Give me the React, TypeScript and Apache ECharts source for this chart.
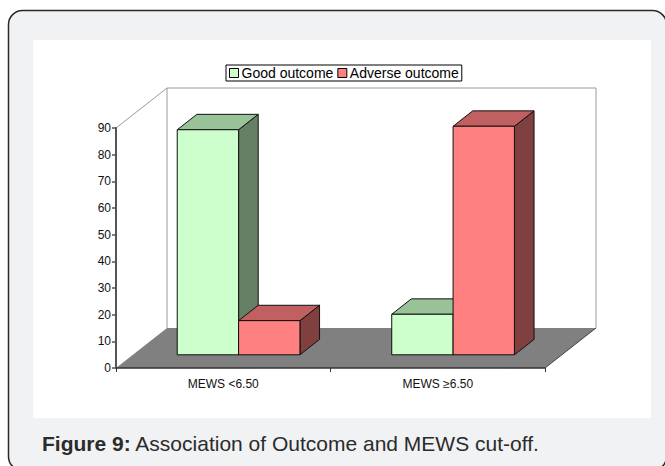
import React, { useEffect, useRef } from "react";
import * as echarts from "echarts";

// Data
const categories = ["MEWS <6.50", "MEWS ≥6.50"];
const goodOutcome = [84.4, 15.2];
const adverseOutcome = [12.8, 85.7];
const seriesNames = ["Good outcome", "Adverse outcome"];
const yMin = 0;
const yMax = 90;
const yInterval = 10;
const captionBold = "Figure 9:";
const captionText = " Association of Outcome and MEWS cut-off.";

// Face shades for the pseudo-3D columns
const goodFaces = { front: "#CCFFCC", top: "#99C299", side: "#668066" };
const adverseFaces = { front: "#FF8080", top: "#C06060", side: "#804040" };

// Oblique depth of the plot box, in pixels
const DEPTH_X = 51;
const DEPTH_Y = -40;
// Where the columns sit inside that depth, and their size within a band
const BAR_FRONT = 0.33;
const BAR_DEPTH = 0.385;
const BAR_WIDTH = 0.286;
const BAR_SHIFT = -0.007;

const FONT = "'Liberation Sans', Arial, Helvetica, sans-serif";

function columnRenderer(faces: { front: string; top: string; side: string }, left: boolean) {
  return (params: any, api: any) => {
    const cat = api.value(0);
    const val = api.value(1);
    const base = api.coord([cat, 0]);
    const peak = api.coord([cat, val]);
    const band = api.size([1, 0])[0];
    const w = band * BAR_WIDTH;
    const fx = DEPTH_X * BAR_FRONT;
    const fy = DEPTH_Y * BAR_FRONT;
    const bx = DEPTH_X * BAR_DEPTH;
    const by = DEPTH_Y * BAR_DEPTH;
    const x0 = base[0] + band * BAR_SHIFT + (left ? -w : 0) + fx;
    const x1 = x0 + w;
    const yb = base[1] + fy;
    const yt = peak[1] + fy;
    const stroke = { stroke: "#111", lineWidth: 1, lineJoin: "round" };
    return {
      type: "group",
      children: [
        {
          type: "polygon",
          shape: { points: [[x1, yt], [x1 + bx, yt + by], [x1 + bx, yb + by], [x1, yb]] },
          style: { fill: faces.side, ...stroke },
        },
        {
          type: "polygon",
          shape: { points: [[x0, yt], [x1, yt], [x1 + bx, yt + by], [x0 + bx, yt + by]] },
          style: { fill: faces.top, ...stroke },
        },
        {
          type: "rect",
          shape: { x: x0, y: yt, width: w, height: yb - yt },
          style: { fill: faces.front, ...stroke },
        },
      ],
    };
  };
}

// Back wall, side wall edge and floor of the plot box
function frameRenderer(params: any) {
  const cs = params.coordSys;
  const x = cs.x;
  const y = cs.y;
  const w = cs.width;
  const h = cs.height;
  const wall = { stroke: "#9a9a9a", lineWidth: 1 };
  return {
    type: "group",
    children: [
      {
        type: "polyline",
        shape: {
          points: [
            [x + DEPTH_X, y + h + DEPTH_Y],
            [x + DEPTH_X, y + DEPTH_Y],
            [x + w + DEPTH_X, y + DEPTH_Y],
            [x + w + DEPTH_X, y + h + DEPTH_Y],
          ],
        },
        style: { fill: null, ...wall },
      },
      {
        type: "line",
        shape: { x1: x, y1: y, x2: x + DEPTH_X, y2: y + DEPTH_Y },
        style: wall,
      },
      {
        type: "polygon",
        shape: {
          points: [
            [x, y + h],
            [x + w, y + h],
            [x + w + DEPTH_X, y + h + DEPTH_Y],
            [x + DEPTH_X, y + h + DEPTH_Y],
          ],
        },
        style: { fill: "#808080", stroke: null },
      },
      {
        type: "line",
        shape: { x1: x + w, y1: y + h, x2: x + w + DEPTH_X, y2: y + h + DEPTH_Y },
        style: { stroke: "#444", lineWidth: 1 },
      },
    ],
  };
}

export default function App() {
  const ref = useRef<HTMLDivElement>(null);

  useEffect(() => {
    if (!ref.current) return;
    const chart = echarts.init(ref.current, undefined, { renderer: "svg" });
    chart.setOption({
      animation: false,
      backgroundColor: "#ffffff",
      textStyle: { fontFamily: FONT },
      graphic: [
        {
          type: "rect",
          z: -10,
          shape: { x: 8.5, y: 10.5, width: 658, height: 460, r: 14 },
          style: { fill: "#f1f2f4", stroke: "#2a2a2a", lineWidth: 1.5 },
        },
        {
          type: "rect",
          z: -9,
          shape: { x: 33, y: 40, width: 618, height: 378 },
          style: { fill: "#ffffff" },
        },
        {
          type: "text",
          z: -8,
          x: 42,
          y: 443,
          style: {
            text: `{b|${captionBold}}${captionText}`,
            fontFamily: FONT,
            fontSize: 21,
            fill: "#2b2b2b",
            verticalAlign: "middle",
            rich: {
              b: { fontFamily: FONT, fontSize: 21, fontWeight: "bold", fill: "#2b2b2b" },
            },
          },
        },
      ],
      legend: {
        left: 226,
        top: 65,
        orient: "horizontal",
        padding: [1, 3, 1, 3],
        itemGap: 4,
        itemWidth: 9,
        itemHeight: 9,
        borderColor: "#000",
        borderWidth: 1,
        backgroundColor: "#fff",
        selectedMode: false,
        textStyle: { fontFamily: FONT, fontSize: 14, color: "#000", padding: [1, 0, 0, -2] },
        data: [
          { name: seriesNames[0], icon: "rect", itemStyle: { color: goodFaces.front, borderColor: "#000", borderWidth: 1 } },
          { name: seriesNames[1], icon: "rect", itemStyle: { color: adverseFaces.front, borderColor: "#000", borderWidth: 1 } },
        ],
      },
      grid: { left: 116, top: 128, width: 429, height: 240, containLabel: false },
      xAxis: {
        type: "category",
        data: categories,
        z: 10,
        axisLine: { show: true, lineStyle: { color: "#333", width: 1.5 } },
        axisTick: { show: true, length: 4, lineStyle: { color: "#333", width: 1 } },
        axisLabel: { fontFamily: FONT, fontSize: 12, color: "#111", margin: 10 },
        splitLine: { show: false },
      },
      yAxis: {
        type: "value",
        min: yMin,
        max: yMax,
        interval: yInterval,
        z: 10,
        axisLine: { show: true, lineStyle: { color: "#555", width: 2 } },
        axisTick: { show: true, length: 4, lineStyle: { color: "#555", width: 1.5 } },
        axisLabel: { fontFamily: FONT, fontSize: 12, color: "#111", margin: 5 },
        splitLine: { show: false },
      },
      series: [
        {
          type: "custom",
          name: "frame",
          z: 1,
          silent: true,
          renderItem: frameRenderer,
          data: [[0, 0]],
          encode: { x: 0, y: 1 },
        },
        {
          type: "custom",
          name: seriesNames[0],
          z: 2,
          itemStyle: { color: goodFaces.front },
          renderItem: columnRenderer(goodFaces, true),
          data: goodOutcome.map((v, i) => [i, v]),
          encode: { x: 0, y: 1 },
        },
        {
          type: "custom",
          name: seriesNames[1],
          z: 3,
          itemStyle: { color: adverseFaces.front },
          renderItem: columnRenderer(adverseFaces, false),
          data: adverseOutcome.map((v, i) => [i, v]),
          encode: { x: 0, y: 1 },
        },
      ],
    });
    return () => chart.dispose();
  }, []);

  return (
    <div
      ref={ref}
      style={{ position: "fixed", left: 0, top: 0, width: 665, height: 466 }}
    />
  );
}
